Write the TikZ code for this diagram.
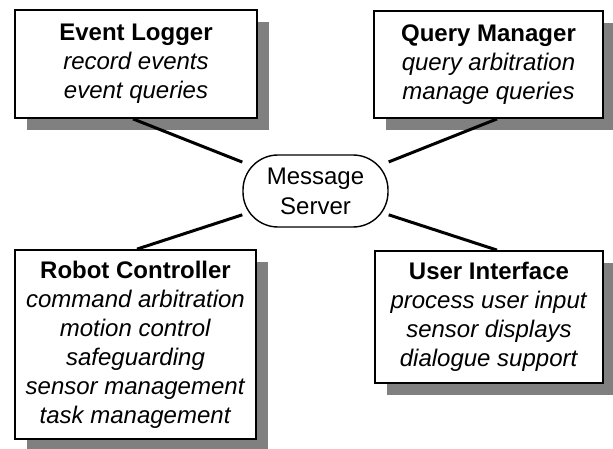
\documentclass[tikz,border=0pt]{standalone}
\usepackage{fontspec}
\setmainfont{Liberation Sans}
\usepackage{tikz}
\usetikzlibrary{shadows}

\begin{document}
\begin{tikzpicture}[x=1pt,y=1pt,
    module/.style={draw,line width=1.8pt,fill=white,align=center,inner sep=0pt,
        font=\fontsize{24}{29}\selectfont,
        drop shadow={shadow xshift=12pt,shadow yshift=-12pt,fill=black!50,opacity=1}},
    hub/.style={draw,line width=1.4pt,fill=white,rounded corners=35pt,align=center,
        inner sep=0pt,minimum width=145pt,minimum height=72pt,
        font=\fontsize{24}{30}\selectfont},
    link/.style={line width=3pt}]
    \useasboundingbox (0,0) rectangle (613,448);

    % the four modules round the server
    \node[module,minimum width=242pt,minimum height=108pt] (logger) at (136,384)
        {\textbf{Event Logger}\\\textit{record events}\\\textit{event queries}};
    \node[module,minimum width=229pt,minimum height=107pt] (query) at (488.5,383.5)
        {\textbf{Query Manager}\\\textit{query arbitration}\\\textit{manage queries}};
    \node[module,minimum width=241pt,minimum height=189pt] (robot) at (135.5,103.5)
        {\textbf{Robot Controller}\\\textit{command arbitration}\\\textit{motion control}\\
         \textit{safeguarding}\\\textit{sensor management}\\\textit{task management}};
    \node[module,minimum width=228pt,minimum height=132pt] (ui) at (489,131)
        {\textbf{User Interface}\\\textit{process user input}\\\textit{sensor displays}\\
         \textit{dialogue support}};

    \node[hub] (server) at (315.5,257) {Message\\Server};

    % spokes
    \draw[link] ([xshift=-3pt]logger.south) -- (server);
    \draw[link] ([xshift=8.5pt]query.south) -- (server);
    \draw[link] ([xshift=1.5pt]robot.north) -- (server);
    \draw[link] ([xshift=8pt]ui.north) -- (server);
\end{tikzpicture}
\end{document}
